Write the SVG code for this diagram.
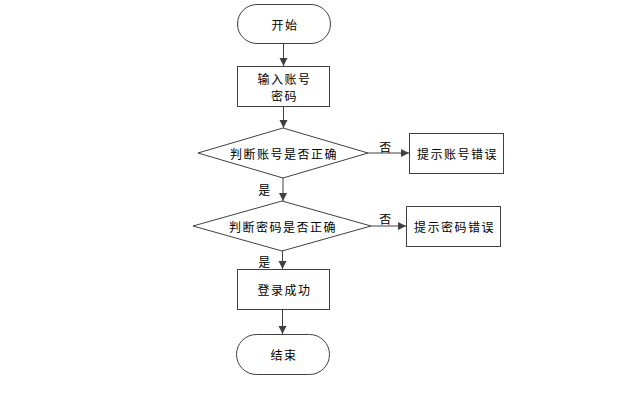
<svg xmlns="http://www.w3.org/2000/svg" width="625" height="393" viewBox="0 0 625 393">
<style>
.s{fill:#fff;stroke:#404040;stroke-width:1}
.t{font-family:"Noto Sans CJK SC","Noto Sans",sans-serif;font-size:12px;letter-spacing:1.5px;fill:#000;text-anchor:middle;dominant-baseline:central}
.c{stroke:#404040;stroke-width:1;fill:none;marker-end:url(#a)}
</style>
<defs>
<marker id="a" markerWidth="10" markerHeight="10" refX="9" refY="5" orient="auto" markerUnits="userSpaceOnUse">
<path d="M1,1 L9,5 L1,9 Z" fill="#404040"/>
</marker>
</defs>
<rect width="625" height="393" fill="#fff"/>
<g id="connectors">
<line class="c" x1="283.5" y1="44" x2="283.5" y2="66"/>
<line class="c" x1="283.5" y1="106" x2="283.5" y2="128"/>
<line class="c" x1="368" y1="153" x2="409" y2="153"/>
<line class="c" x1="283" y1="178" x2="283" y2="201"/>
<line class="c" x1="371" y1="226" x2="406" y2="226"/>
<line class="c" x1="282.5" y1="251" x2="282.5" y2="269"/>
<line class="c" x1="282.5" y1="309" x2="282.5" y2="334"/>
<text class="t" x="386" y="146">否</text>
<text class="t" x="265" y="189">是</text>
<text class="t" x="386" y="218">否</text>
<text class="t" x="265" y="261">是</text>
</g>
<g id="start">
<rect class="s" x="237.5" y="4.5" width="93" height="39" rx="19.5"/>
<text class="t" x="285" y="24">开始</text>
</g>
<g id="input">
<rect class="s" x="237.5" y="66.5" width="92" height="40"/>
<text class="t" x="284.5" y="78">输入账号</text>
<text class="t" x="284.5" y="95">密码</text>
</g>
<g id="check-account">
<polygon class="s" points="198,153 283,128 368,153 283,178"/>
<text class="t" x="284" y="153">判断账号是否正确</text>
</g>
<g id="account-error">
<rect class="s" x="409.5" y="133.5" width="94" height="40"/>
<text class="t" x="457.5" y="153.5">提示账号错误</text>
</g>
<g id="check-password">
<polygon class="s" points="193,226 282,201 371,226 282,251"/>
<text class="t" x="283" y="226">判断密码是否正确</text>
</g>
<g id="password-error">
<rect class="s" x="406.5" y="206.5" width="94" height="40"/>
<text class="t" x="454.5" y="226.5">提示密码错误</text>
</g>
<g id="success">
<rect class="s" x="237.5" y="269.5" width="92" height="40"/>
<text class="t" x="284.5" y="289.5">登录成功</text>
</g>
<g id="end">
<rect class="s" x="236.5" y="334.5" width="93" height="40" rx="20"/>
<text class="t" x="284" y="354.5">结束</text>
</g>
</svg>
